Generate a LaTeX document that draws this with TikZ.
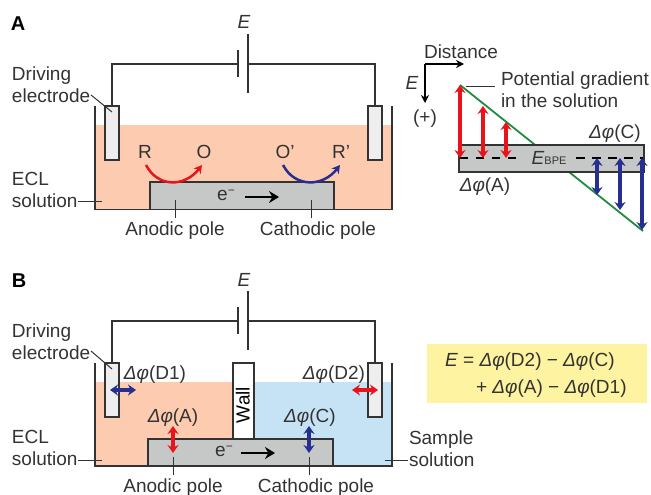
\documentclass[tikz,border=0pt]{standalone}
\usepackage{fontspec}
\setmainfont{Liberation Sans}
\usepackage{tikz}
\usetikzlibrary{positioning, arrows.meta}

\definecolor{inkgray}{HTML}{333333}
\definecolor{eclpink}{HTML}{FDCBB0}
\definecolor{sampleblue}{HTML}{C6E3F5}
\definecolor{polegray}{HTML}{C6C8C8}
\definecolor{elecgray}{HTML}{EEEEEE}
\definecolor{noteyellow}{HTML}{FDF3A0}
\definecolor{potred}{HTML}{E8141C}
\definecolor{potblue}{HTML}{262F8F}
\definecolor{gradgreen}{HTML}{1E8C3C}
\newcommand{\dphi}{\textit{Δφ}}
\newcommand{\eminus}{e\raisebox{6pt}{\fontsize{12}{12}\selectfont −}}

\begin{document}
\begin{tikzpicture}[
x=1pt,y=-1pt,
font=\fontsize{19}{22}\selectfont,
txt/.style={inner sep=0,outer sep=0,text=inkgray,align=left,text height=16pt,text depth=3pt},
multi/.style={inner sep=0,outer sep=0,text=inkgray,align=left,anchor=west},
panel/.style={inner sep=0,text=black,font=\fontsize{20}{22}\selectfont\bfseries},
wire/.style={draw=inkgray,line width=1.5pt},
leader/.style={draw=inkgray,line width=1pt},
elec/.style={draw=inkgray,line width=1.5pt,fill=elecgray,minimum width=14pt,minimum height=54pt,inner sep=0,outer sep=0},
pole/.style={draw=inkgray,line width=1.5pt,fill=polegray,inner sep=0,outer sep=0},
redarrow/.style={draw=potred,line width=3.6pt,{Stealth[length=8pt,width=11pt]}-{Stealth[length=8pt,width=11pt]}},
bluearrow/.style={draw=potblue,line width=3.6pt,{Stealth[length=8pt,width=11pt]}-{Stealth[length=8pt,width=11pt]}},
flowarrow/.style={draw=black,line width=2.8pt,-{Stealth[length=10pt,width=12pt]}}
]
\useasboundingbox (0,0) rectangle (651,495);

% panel A, cell
\fill[eclpink] (95,125) rectangle (392,209.5);
\node[panel] (labelA) at (18,24) {A};
\node[elec] (elecA1) at (112,133) {};
\node[elec] (elecA2) at (375,133) {};
\node[pole,minimum width=184pt,minimum height=27.5pt] (poleA) at (242,195.75) {};
\draw[wire] (95,106) -- (95,209.5) -- (392,209.5) -- (392,106);
\coordinate (plateA1) at (238,64);
\coordinate (plateA2) at (248,64);
\draw[wire] (elecA1.north) |- (plateA1);
\draw[wire] (elecA2.north) |- (plateA2);
\draw[wire] ([yshift=14pt]plateA1) -- ([yshift=-13pt]plateA1);
\draw[wire] ([yshift=30pt]plateA2) -- ([yshift=-29pt]plateA2);
\node[txt] (voltA) at (244,22) {\textit{E}};

\node[multi] (driveA) at (12,85) {Driving\\electrode};
\coordinate (driveAfrom) at (91,95);
\coordinate (driveAto) at (112,112);
\draw[leader] (driveAfrom) -- (driveAto);
\node[multi] (eclA) at (12,190) {ECL\\solution};
\coordinate (eclAfrom) at (78,201);
\coordinate (eclAto) at (102,201);
\draw[leader] (eclAfrom) -- (eclAto);

\node[txt] (anodeA) at (175,229) {Anodic pole};
\node[txt] (cathodeA) at (318,229) {Cathodic pole};
\coordinate (anodeAin) at (175,200);
\coordinate (anodeAout) at (175,218);
\coordinate (cathodeAin) at (311,200);
\coordinate (cathodeAout) at (311,218);
\draw[leader] (anodeAin) -- (anodeAout);
\draw[leader] (cathodeAin) -- (cathodeAout);

\node[txt] (speciesR) at (145,152) {R};
\node[txt] (speciesO) at (204,152) {O};
\node[txt] (speciesOp) at (285,152) {O’};
\node[txt] (speciesRp) at (341,152) {R’};
\coordinate (redstart) at (146,165);
\coordinate (redend) at (202,165);
\coordinate (bluestart) at (283,165);
\coordinate (blueend) at (340,165);
\draw[draw=potred,line width=2.5pt,-{Stealth[length=8pt,width=9pt]}] (redstart) .. controls (158,188) and (185,187) .. (redend);
\draw[draw=potblue,line width=2.5pt,-{Stealth[length=8pt,width=9pt]}] (bluestart) .. controls (295,188) and (323,187) .. (blueend);

\node[txt] (electronA) at (226,194) {\eminus};
\coordinate (flowAfrom) at (245,197);
\coordinate (flowAto) at (279,197);
\draw[flowarrow] (flowAfrom) -- (flowAto);

% panel A, potential profile
\coordinate (axesorigin) at (425,64);
\coordinate (axesright) at (464,64);
\coordinate (axesdown) at (425,103);
\draw[draw=black,line width=1.5pt,-{Stealth[length=8pt,width=8pt]}] (axesorigin) -- (axesright);
\draw[draw=black,line width=1.5pt,-{Stealth[length=8pt,width=8pt]}] (axesorigin) -- (axesdown);
\node[txt] (distance) at (461,52) {Distance};
\node[txt] (axisE) at (412,83) {\textit{E}};
\node[txt] (plus) at (425,117) {(+)};

\coordinate (gradtop) at (460,85);
\coordinate (gradbottom) at (643,231);
\draw[draw=gradgreen,line width=1.8pt] (gradtop) -- (gradbottom);
\node[pole,minimum width=185pt,minimum height=27pt] (bpe) at (551.5,158.5) {};
\node[multi] (gradtext) at (501,90) {Potential gradient\\in the solution};
\coordinate (gradfrom) at (466,87);
\coordinate (gradto) at (495,87);
\draw[leader] (gradfrom) -- (gradto);

\coordinate (dashleftA) at (460,158);
\coordinate (dashleftB) at (518,158);
\coordinate (dashrightA) at (576,158);
\coordinate (dashrightB) at (643,158);
\draw[draw=black,line width=1.5pt,dash pattern=on 8pt off 8pt] (dashleftA) -- (dashleftB);
\draw[draw=black,line width=2.5pt,dash pattern=on 9pt off 7pt] (dashrightA) -- (dashrightB);
\node[txt] (ebpe) at (549,158) {\textit{E}{\fontsize{11}{11}\selectfont BPE}};
\node[txt] (labelC) at (615,132) {\dphi(C)};
\node[txt] (labelAprof) at (485,185) {\dphi(A)};

\coordinate (redA) at (460,85);
\coordinate (redB) at (483,106);
\coordinate (redC) at (506,122);
\coordinate (blueA) at (597,195);
\coordinate (blueB) at (620,210);
\coordinate (blueC) at (642,230);
\draw[redarrow] (redA) -- (redA |- dashleftA);
\draw[redarrow] (redB) -- (redB |- dashleftA);
\draw[redarrow] (redC) -- (redC |- dashleftA);
\draw[bluearrow] (blueA) -- (blueA |- dashrightA);
\draw[bluearrow] (blueB) -- (blueB |- dashrightA);
\draw[bluearrow] (blueC) -- (blueC |- dashrightA);

% panel B, cell
\fill[eclpink] (95,382) rectangle (233,466);
\fill[sampleblue] (254,382) rectangle (392,466);
\node[panel] (labelB) at (19,281) {B};
\node[elec] (elecB1) at (112,390) {};
\node[elec] (elecB2) at (375,390) {};
\node[draw=inkgray,line width=1.5pt,fill=white,minimum width=21pt,minimum height=76pt,inner sep=0,outer sep=0] (wall) at (243.5,401) {};
\node[txt,rotate=90,text=black] (walltext) at (243,405) {Wall};
\node[pole,minimum width=185pt,minimum height=27pt] (poleB) at (240.5,452.5) {};
\draw[wire] (95,363) -- (95,466) -- (392,466) -- (392,363);
\coordinate (plateB1) at (238,321);
\coordinate (plateB2) at (248,321);
\draw[wire] (elecB1.north) |- (plateB1);
\draw[wire] (elecB2.north) |- (plateB2);
\draw[wire] ([yshift=14pt]plateB1) -- ([yshift=-13pt]plateB1);
\draw[wire] ([yshift=30pt]plateB2) -- ([yshift=-29pt]plateB2);
\node[txt] (voltB) at (244,280) {\textit{E}};

\node[multi] (driveB) at (12,342) {Driving\\electrode};
\coordinate (driveBfrom) at (91,351);
\coordinate (driveBto) at (112,369);
\draw[leader] (driveBfrom) -- (driveBto);
\node[multi] (eclB) at (12,448) {ECL\\solution};
\coordinate (eclBfrom) at (78,460);
\coordinate (eclBto) at (102,460);
\draw[leader] (eclBfrom) -- (eclBto);
\node[multi] (sampleB) at (409,449) {Sample\\solution};
\coordinate (sampleBfrom) at (385,460);
\coordinate (sampleBto) at (408,460);
\draw[leader] (sampleBfrom) -- (sampleBto);

\node[txt] (anodeB) at (173,486) {Anodic pole};
\node[txt] (cathodeB) at (316,486) {Cathodic pole};
\coordinate (anodeBin) at (173,457);
\coordinate (anodeBout) at (173,475);
\coordinate (cathodeBin) at (309,457);
\coordinate (cathodeBout) at (309,475);
\draw[leader] (anodeBin) -- (anodeBout);
\draw[leader] (cathodeBin) -- (cathodeBout);

\node[txt] (labelD1) at (155,373) {\dphi(D1)};
\node[txt] (labelD2) at (334,373) {\dphi(D2)};
\node[txt] (labelAcell) at (173,416) {\dphi(A)};
\node[txt] (labelCcell) at (310,416) {\dphi(C)};

\coordinate (d1left) at (110,390);
\coordinate (d1right) at (136,390);
\coordinate (d2left) at (352,390);
\coordinate (d2right) at (378,390);
\coordinate (atop) at (173,426);
\coordinate (abottom) at (173,453);
\coordinate (ctop) at (309,426);
\coordinate (cbottom) at (309,453);
\draw[bluearrow] (d1left) -- (d1right);
\draw[redarrow] (d2left) -- (d2right);
\draw[redarrow] (atop) -- (abottom);
\draw[bluearrow] (ctop) -- (cbottom);

\node[txt] (electronB) at (224,450) {\eminus};
\coordinate (flowBfrom) at (241,453);
\coordinate (flowBto) at (275,453);
\draw[flowarrow] (flowBfrom) -- (flowBto);

% equation box
\node[fill=noteyellow,minimum width=220pt,minimum height=59pt,inner sep=0] (notebox) at (537,373.5) {};
\node[txt,anchor=west] (noteone) at (445,360) {\textit{E} = \dphi(D2) − \dphi(C)};
\node[txt,anchor=west] (notetwo) at (476,387) {+ \dphi(A) − \dphi(D1)};
\end{tikzpicture}
\end{document}
